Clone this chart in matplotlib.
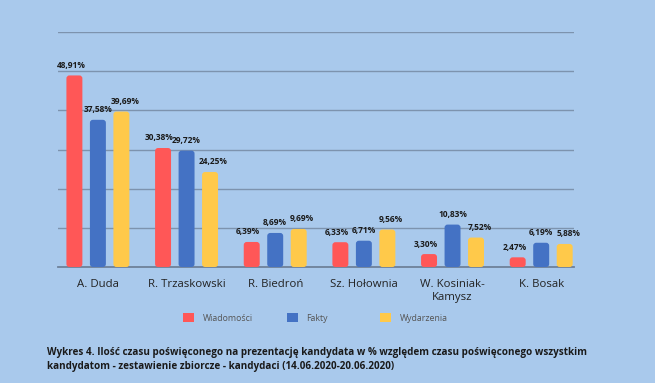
import matplotlib.pyplot as plt
from matplotlib.patches import FancyBboxPatch, Patch
import numpy as np

candidates = ['A. Duda', 'R. Trzaskowski', 'R. Biedroń', 'Sz. Hołownia', 'W. Kosiniak-\nKamysz', 'K. Bosak']
wiadomosci = [48.91, 30.38, 6.39, 6.33, 3.30, 2.47]
fakty = [37.58, 29.72, 8.69, 6.71, 10.83, 6.19]
wydarzenia = [39.69, 24.25, 9.69, 9.56, 7.52, 5.88]
series_names = ['Wiadomości', 'Fakty', 'Wydarzenia']
colors = ['#FF5757', '#4472C4', '#FFC94A']

bg = '#A9C9EC'
plt.rcParams['font.family'] = ['Open Sans', 'DejaVu Sans']

fig = plt.figure(figsize=(6.55, 3.83), dpi=100, facecolor=bg)
ax = fig.add_axes([58 / 655, 1 - 267 / 383, (574 - 58) / 655, (267 - 32) / 383])
ax.set_facecolor(bg)

x = np.arange(len(candidates))
w = 0.18
step = 0.265
ax.set_xlim(-0.45, 5.37)
ax.set_ylim(0, 60)

# aspect between y and x data units in pixels, used for rounded corners
px_x = (574 - 58) / (5.37 + 0.45)
px_y = (267 - 32) / 60
for k, (vals, col) in enumerate(zip([wiadomosci, fakty, wydarzenia], colors)):
    bars = ax.bar(x + (k - 1) * step, vals, width=w, color=col)
    for rect, v in zip(bars, vals):
        rect.set_visible(False)
        bx, by = rect.get_x(), rect.get_y()
        bw, bh = rect.get_width(), rect.get_height()
        p = FancyBboxPatch((bx, by), bw, bh,
                           boxstyle='round,pad=0,rounding_size=%f' % (3 / px_x),
                           mutation_aspect=px_x / px_y,
                           facecolor=col, edgecolor='none', zorder=3)
        ax.add_patch(p)
        # outer labels pushed slightly outward so neighbours don't collide
        ax.annotate(('%.2f%%' % v).replace('.', ','), (bx + bw / 2, v),
                    xytext=((k - 1) * 2.5, 4), textcoords='offset points',
                    ha='center', va='bottom', fontsize=6.0, fontweight='bold',
                    color='#1a1a1a', zorder=4)

ax.set_yticks(np.arange(0, 61, 10))
ax.grid(axis='y', color='#7D93AE', linewidth=1)
ax.axhline(0, color='#6F829A', linewidth=1.3, zorder=2, clip_on=False)
ax.set_axisbelow(True)
for s in ax.spines.values():
    s.set_visible(False)
ax.tick_params(left=False, labelleft=False, bottom=False)
ax.set_xticks(x)
ax.set_xticklabels(candidates, fontsize=8.2, color='#222222', linespacing=1.25)
ax.tick_params(axis='x', pad=5)

# legend items placed one by one, like in the original
legend_x = [185, 289, 382]
for name, col, lx in zip(series_names, colors, legend_x):
    fig.legend([Patch(facecolor=col, edgecolor='none')], [name],
               loc='center left', bbox_to_anchor=(lx / 655 - 0.012, 1 - 318 / 383),
               frameon=False, fontsize=6.3, labelcolor='#555555',
               handlelength=1.2, handleheight=1.2, handletextpad=1.0,
               borderpad=0.2)

fig.text(47 / 655, 1 - 352 / 383,
         'Wykres 4. Ilość czasu poświęconego na prezentację kandydata w % względem czasu poświęconego wszystkim',
         fontsize=7.1, fontweight='bold', color='#1a1a1a', va='center')
fig.text(47 / 655, 1 - 366 / 383,
         'kandydatom - zestawienie zbiorcze - kandydaci (14.06.2020-20.06.2020)',
         fontsize=7.1, fontweight='bold', color='#1a1a1a', va='center')

fig.savefig('out.png', dpi=100, facecolor=bg)
